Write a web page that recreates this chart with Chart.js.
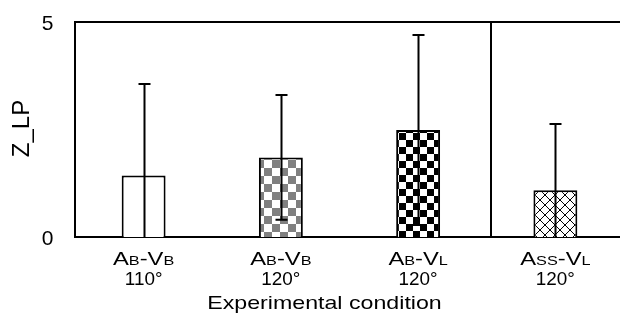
<!DOCTYPE html>
<html>
<head>
<meta charset="utf-8">
<script src="https://cdn.jsdelivr.net/npm/chart.js@4.4.0/dist/chart.umd.min.js"></script>
<style>
	html, body { margin: 0; padding: 0; background: #fff; overflow: hidden; }
	#wrap { width: 624px; height: 326px; }
</style>
</head>
<body>
<div id="wrap"><canvas id="chart"></canvas></div>
<script>
// condition names: text in {} is drawn small
const conditions = ["A{B}-V{B}", "A{B}-V{B}", "A{B}-V{L}", "A{SS}-V{L}"];
const angles = ["110°", "120°", "120°", "120°"];
const zValues = [1.43, 1.85, 2.49, 1.09];
const zErrors = [2.13, 1.45, 2.21, 1.54];
const yTicks = [0, 5];
const xTitle = "Experimental condition";
const yTitle = "Z_LP";
const dividerAt = 2.53;

const fontFamily = "'Liberation Sans', Arial, sans-serif";

function makePattern(size, draw) {
	const c = document.createElement("canvas");
	c.width = size;
	c.height = size;
	const g = c.getContext("2d");
	g.fillStyle = "#fff";
	g.fillRect(0, 0, size, size);
	draw(g, size);
	return document.createElement("canvas").getContext("2d").createPattern(c, "repeat");
}

function checker(color, cell) {
	return makePattern(cell * 2, (g, s) => {
		g.fillStyle = color;
		g.fillRect(0, 0, cell, cell);
		g.fillRect(cell, cell, cell, cell);
	});
}

const crossHatch = makePattern(10, (g, s) => {
	g.strokeStyle = "#000";
	g.lineWidth = 1;
	g.beginPath();
	g.moveTo(0, 0);
	g.lineTo(s, s);
	g.moveTo(s, 0);
	g.lineTo(0, s);
	g.stroke();
});

const fills = ["#fff", checker("#808080", 8), checker("#000", 7), crossHatch];

function splitLabel(text) {
	const parts = [];
	const re = /\{([^}]*)\}|([^{]+)/g;
	let m;
	while ((m = re.exec(text)) !== null) {
		if (m[1] !== undefined) {
			parts.push({ text: m[1], small: true });
		}
		else {
			parts.push({ text: m[2], small: false });
		}
	}
	return parts;
}

// text in the source is a little wider than Arial, so stretch it
function drawParts(ctx, parts, cx, baseline, sx, bigFont, smallFont) {
	let width = 0;
	parts.forEach(p => {
		ctx.font = p.small ? smallFont : bigFont;
		p.width = ctx.measureText(p.text).width;
		width += p.width;
	});
	ctx.save();
	ctx.translate(cx, baseline);
	ctx.scale(sx, 1);
	ctx.textAlign = "left";
	ctx.textBaseline = "alphabetic";
	let px = -width / 2;
	parts.forEach(p => {
		ctx.font = p.small ? smallFont : bigFont;
		ctx.fillText(p.text, px, 0);
		px += p.width;
	});
	ctx.restore();
}

const decorations = {
	id: "decorations",
	afterDatasetsDraw(chart) {
		const ctx = chart.ctx;
		const area = chart.chartArea;
		const x = chart.scales.x;
		const y = chart.scales.y;
		ctx.save();
		ctx.beginPath();
		ctx.rect(area.left, area.top, area.right - area.left, area.bottom - area.top);
		ctx.clip();
		ctx.strokeStyle = "#000";
		ctx.lineWidth = 2;
		zValues.forEach((v, i) => {
			const cx = Math.round(x.getPixelForValue(i)) + 0.5;
			const hi = y.getPixelForValue(v + zErrors[i]);
			const lo = y.getPixelForValue(v - zErrors[i]);
			ctx.beginPath();
			ctx.moveTo(cx, hi);
			ctx.lineTo(cx, lo);
			ctx.moveTo(cx - 6, hi);
			ctx.lineTo(cx + 6, hi);
			ctx.moveTo(cx - 6, lo);
			ctx.lineTo(cx + 6, lo);
			ctx.stroke();
		});
		ctx.restore();

		ctx.save();
		ctx.strokeStyle = "#000";
		ctx.lineWidth = 2;
		ctx.beginPath();
		ctx.moveTo(area.left, area.top);
		ctx.lineTo(area.right, area.top);
		const dx = Math.round(x.getPixelForValue(dividerAt));
		ctx.moveTo(dx, area.top);
		ctx.lineTo(dx, area.bottom);
		ctx.stroke();
		ctx.restore();
	},
	afterDraw(chart) {
		const ctx = chart.ctx;
		const area = chart.chartArea;
		const x = chart.scales.x;
		const y = chart.scales.y;
		const big = "19px " + fontFamily;
		const small = "13px " + fontFamily;
		const angleFont = "18px " + fontFamily;
		ctx.save();
		ctx.fillStyle = "#000";

		conditions.forEach((label, i) => {
			const cx = x.getPixelForValue(i);
			drawParts(ctx, splitLabel(label), cx, area.bottom + 28, 1.25, big, small);
			drawParts(ctx, [{ text: angles[i], small: false }], cx, area.bottom + 48, 1.05, angleFont, small);
		});
		drawParts(ctx, [{ text: xTitle, small: false }], (area.left + area.right) / 2 - 25, area.bottom + 72, 1.22, big, small);

		ctx.font = "21px " + fontFamily;
		ctx.textAlign = "center";
		ctx.textBaseline = "alphabetic";
		yTicks.forEach(v => {
			ctx.fillText(String(v), area.left - 27.5, y.getPixelForValue(v) + 8);
		});

		ctx.save();
		ctx.translate(area.left - 53, (area.top + area.bottom) / 2 - 1);
		ctx.rotate(-Math.PI / 2);
		ctx.font = "24px " + fontFamily;
		ctx.textAlign = "center";
		ctx.textBaseline = "middle";
		ctx.fillText(yTitle, 0, 0);
		ctx.restore();

		ctx.restore();
	}
};

const context = document.getElementById("chart").getContext("2d");
const chart = new Chart(context, {
	type: "bar",
	data: {
		labels: conditions.map((c, i) => c.replace(/[{}]/g, "") + " " + angles[i]),
		datasets: [
			{
				label: yTitle,
				data: zValues,
				backgroundColor: fills,
				borderColor: "#000",
				borderWidth: 2,
				borderSkipped: "start",
				barPercentage: 0.32,
				categoryPercentage: 1
			}
		]
	},
	options: {
		responsive: true,
		maintainAspectRatio: false,
		animation: false,
		layout: {
			padding: { top: 22, right: 0, bottom: 0, left: 0 }
		},
		plugins: {
			legend: { display: false },
			tooltip: { enabled: false }
		},
		scales: {
			x: {
				grid: { display: false },
				border: { display: true, color: "#000", width: 2 },
				ticks: { display: false },
				afterFit: scale => { scale.height = 89; }
			},
			y: {
				min: 0,
				max: 5,
				afterBuildTicks: scale => {
					scale.ticks = yTicks.map(v => ({ value: v }));
				},
				grid: { display: false, drawTicks: false },
				border: { display: true, color: "#000", width: 2 },
				ticks: { display: false },
				afterFit: scale => { scale.width = 75; }
			}
		}
	},
	plugins: [decorations]
});
</script>
</body>
</html>
